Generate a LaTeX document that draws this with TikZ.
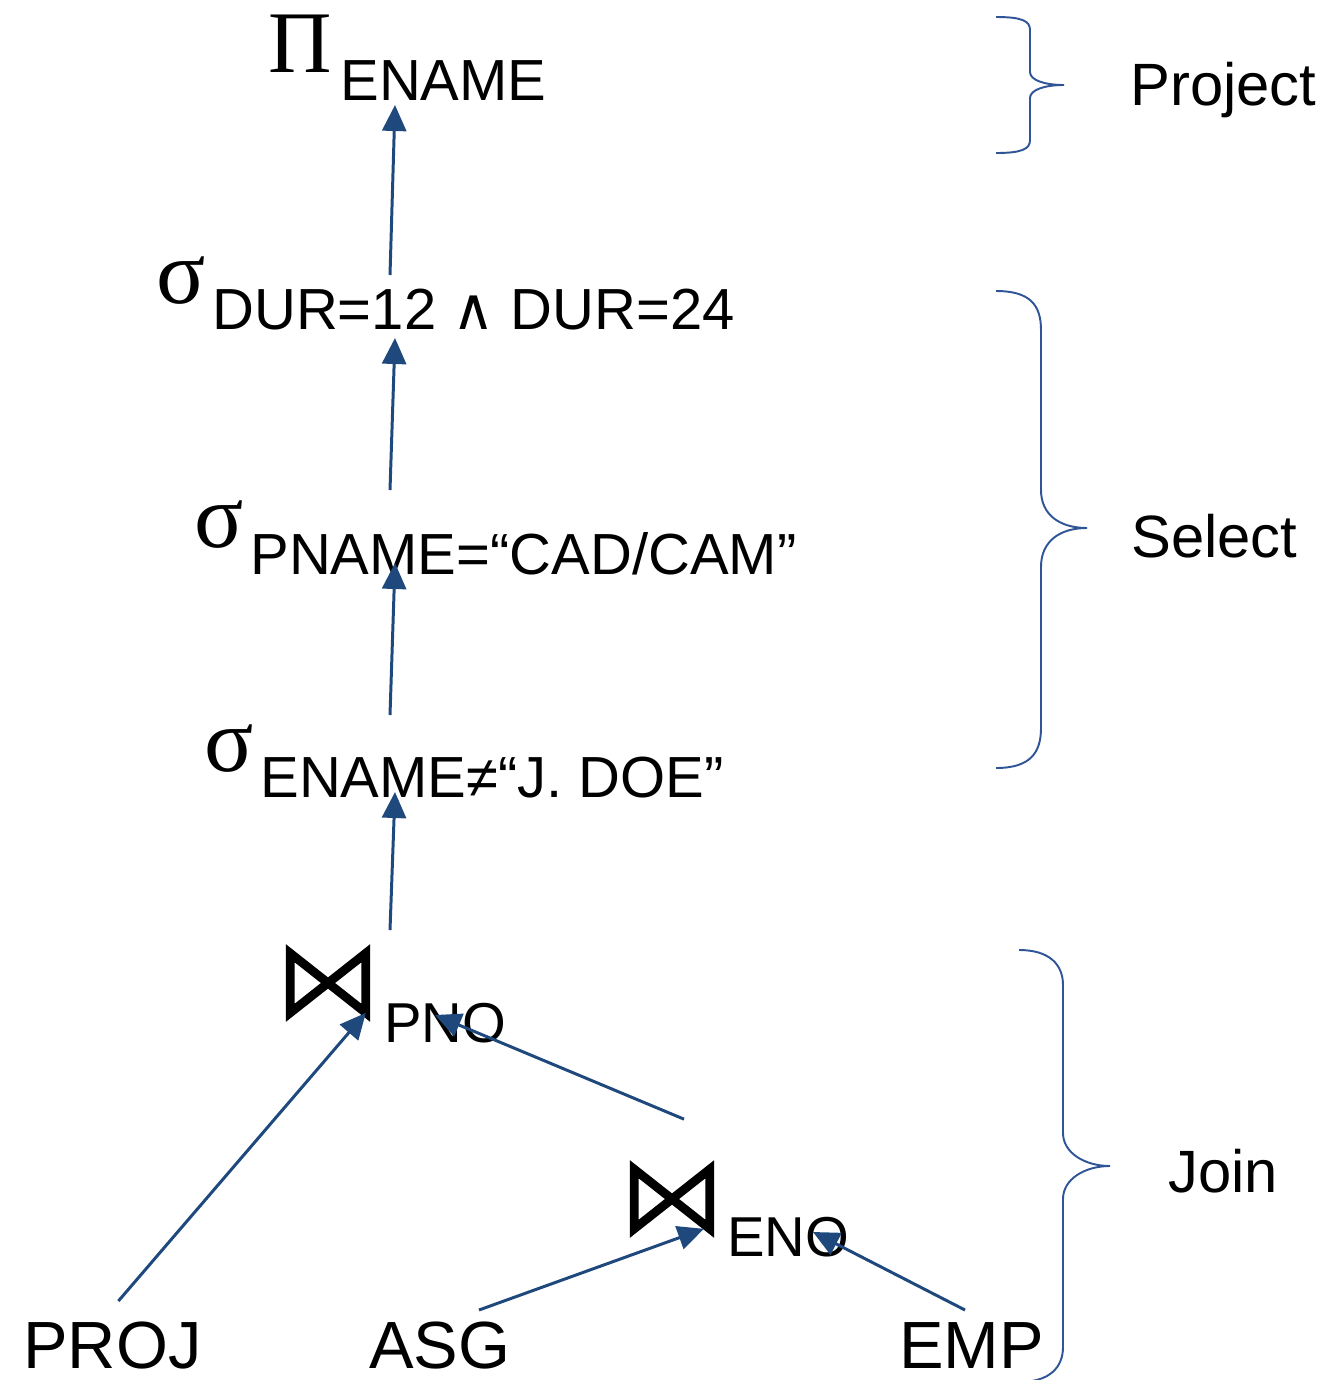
\documentclass[tikz,border=0pt]{standalone}
\usepackage{fontspec}
\setmainfont{Liberation Sans}
\newfontfamily\greekfont{Liberation Serif}
\newfontfamily\symfont{DejaVu Sans}
\usepackage{tikz}
\usetikzlibrary{arrows.meta, positioning}

\definecolor{arrowblue}{RGB}{31,73,125}
\definecolor{braceblue}{RGB}{47,85,151}

\tikzset{
    opsym/.style={anchor=base west, inner sep=0pt, font=\fontsize{52}{62}\selectfont\greekfont},
    opsub/.style={anchor=base west, inner sep=0pt, font=\fontsize{33}{40}\selectfont},
    relname/.style={anchor=base west, inner sep=0pt, font=\fontsize{38}{45}\selectfont},
    phase/.style={anchor=base west, inner sep=0pt, font=\fontsize{34}{41}\selectfont},
    joinop/.style={minimum width=1.5cm, minimum height=1.18cm, inner sep=0pt},
    bowtie/.style={line width=5pt, line join=miter},
    brace/.style={draw=braceblue, line width=1.1pt},
    >={Triangle[length=0.52cm, width=0.48cm]}
}

\begin{document}
\begin{tikzpicture}[x=0.02cm, y=-0.02cm]
                \useasboundingbox (0,0) rectangle (1337,1380);

                \node[opsym, font=\fontsize{50}{60}\selectfont\greekfont] (pi) at (268, 72) {Π};
                \node[opsub] (piS) at (340, 100) {ENAME};
                \node[opsym] (s1) at (156, 303) {σ};
                \node[opsub] (s1S) at (212, 329) {DUR=12 {\symfont ∧} DUR=24};
                \node[opsym] (s2) at (194, 547) {σ};
                \node[opsub] (s2S) at (250, 574) {PNAME=“CAD/CAM”};
                \node[opsym] (s3) at (204, 771) {σ};
                \node[opsub] (s3S) at (260, 797) {ENAME≠“J. DOE”};

                \node[joinop] (j1) at (328, 983) {};
                \node[opsub, font=\fontsize{32}{38}\selectfont] (pno) at (384, 1042) {PNO};
                \node[joinop] (j2) at (672, 1199) {};
                \node[opsub, font=\fontsize{32}{38}\selectfont] (eno) at (727, 1256) {ENO};

                \node[relname] (proj) at (23, 1368) {PROJ};
                \node[relname] (asg) at (369, 1368) {ASG};
                \node[relname] (emp) at (899, 1368) {EMP};

                \node[phase] (lproject) at (1130, 105) {Project};
                \node[phase] (lselect) at (1131, 557) {Select};
                \node[phase] (ljoin) at (1168, 1192) {Join};

                \foreach \j in {j1, j2}
                    \draw[bowtie] (\j.north west) -- (\j.south west) -- (\j.north east) -- (\j.south east) -- cycle;

                \draw[->, draw=arrowblue, fill=arrowblue, line width=1.7pt] ([shift={(178,-54)}]s1S.base west) -- ([shift={(55,5)}]piS.base west);
                \draw[->, draw=arrowblue, fill=arrowblue, line width=1.7pt] ([shift={(140,-84)}]s2S.base west) -- ([shift={(183,9)}]s1S.base west);
                \draw[->, draw=arrowblue, fill=arrowblue, line width=1.7pt] ([shift={(130,-82)}]s3S.base west) -- ([shift={(145,-11)}]s2S.base west);
                \draw[->, draw=arrowblue, fill=arrowblue, line width=1.7pt] ([shift={(62,-23)}]j1.north) -- ([shift={(135,-5)}]s3S.base west);
                \draw[->, draw=arrowblue, fill=arrowblue, line width=1.7pt] ([shift={(6,-20)}]proj.north) -- (j1.south east);
                \draw[->, draw=arrowblue, fill=arrowblue, line width=1.7pt] ([shift={(12,-50)}]j2.north) -- ([shift={(51,-27)}]pno.base west);
                \draw[->, draw=arrowblue, fill=arrowblue, line width=1.7pt] ([shift={(110,-58)}]asg.base west) -- ([shift={(-6,0)}]j2.south east);
                \draw[->, draw=arrowblue, fill=arrowblue, line width=1.7pt] ([shift={(66,-58)}]emp.base west) -- ([shift={(86,-24)}]eno.base west);

                \draw[brace] (996, 17) .. controls (1022, 17) and (1030, 21) .. (1030, 30) -- (1030, 72)
                    .. controls (1030, 80) and (1044, 85) .. (1064, 85)
                    .. controls (1044, 85) and (1030, 90) .. (1030, 98) -- (1030, 140)
                    .. controls (1030, 149) and (1022, 153) .. (996, 153);
                \draw[brace] (996, 291) .. controls (1030, 291) and (1041, 305) .. (1041, 330) -- (1041, 490)
                    .. controls (1041, 515) and (1060, 528) .. (1087, 528)
                    .. controls (1060, 528) and (1041, 541) .. (1041, 567) -- (1041, 728)
                    .. controls (1041, 753) and (1030, 768) .. (996, 768);
                \draw[brace] (1019, 950) .. controls (1050, 950) and (1063, 965) .. (1063, 985) -- (1063, 1133)
                    .. controls (1063, 1153) and (1085, 1166) .. (1110, 1166)
                    .. controls (1085, 1166) and (1063, 1179) .. (1063, 1199) -- (1063, 1347)
                    .. controls (1063, 1367) and (1050, 1382) .. (1019, 1382);
            \end{tikzpicture}
\end{document}
